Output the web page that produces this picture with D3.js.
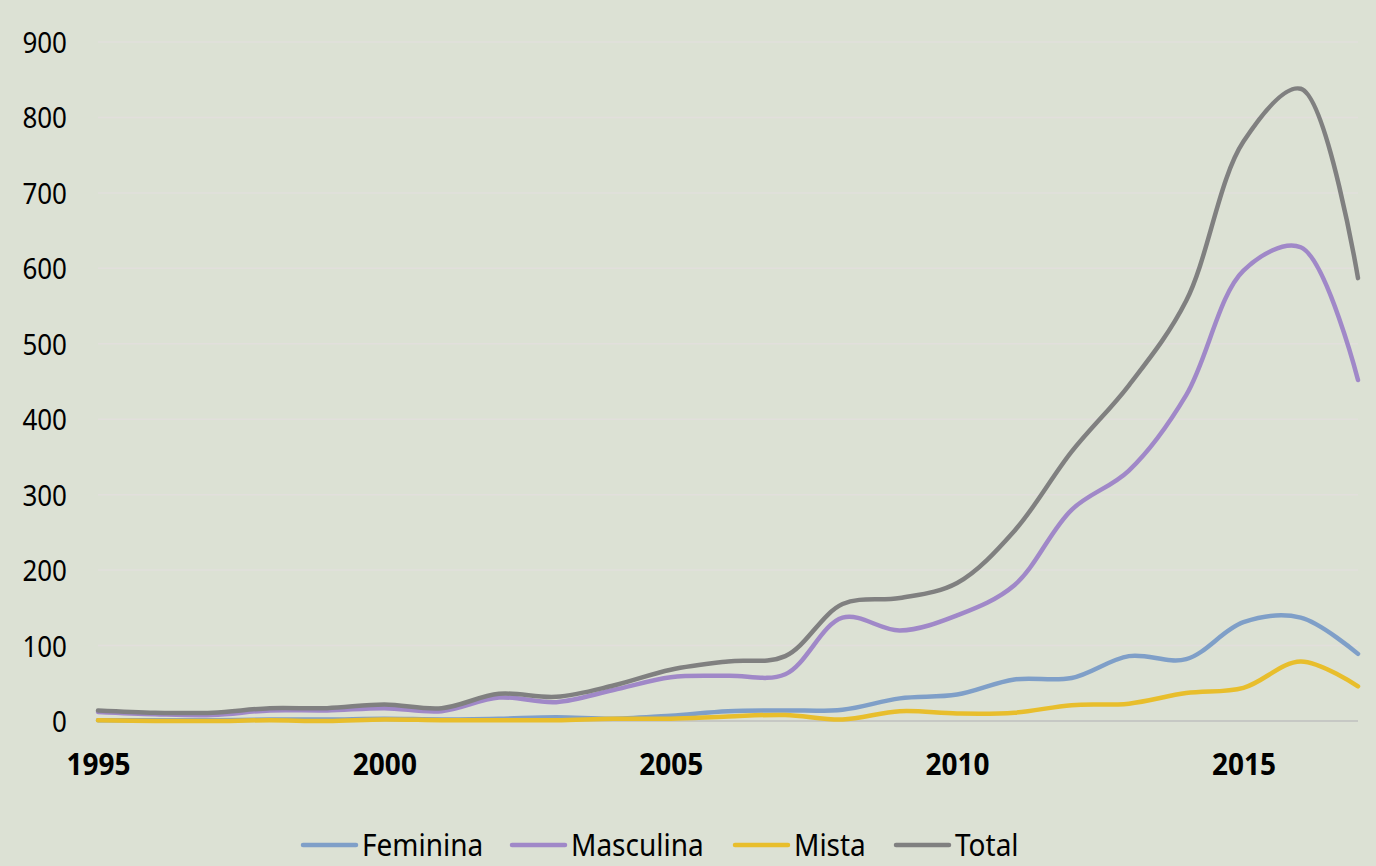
<!DOCTYPE html>
<html lang="pt">
  <head>
    <meta charset="utf-8"/>
    <title>Feminina / Masculina / Mista / Total</title>
    <style>
      html, body { margin: 0; padding: 0; background: #dce1d4; }
      svg { display: block; font-family: "Noto Sans", "Open Sans", sans-serif; }
    </style>
  </head>
  <body>
    <svg id="chart"></svg>

    <script src="https://d3js.org/d3.v7.min.js"></script>
    <script type="text/javascript">
      const width = 1376;
      const height = 866;

      const years = d3.range(1995, 2018);
      const feminina  = [1, 1, 1, 2, 2, 3, 2, 3, 5, 3, 7, 13, 14, 15, 30, 35, 55, 57, 86, 82, 131, 137, 89];
      const masculina = [12, 9, 8, 14, 14, 17, 13, 31, 25, 41, 58, 60, 62, 137, 120, 140, 180, 280, 332, 432, 597, 628, 452];
      const mista     = [1, 0, 0, 1, 0, 2, 1, 1, 1, 3, 3, 6, 8, 2, 13, 10, 11, 21, 23, 37, 44, 79, 46];
      const total     = [14, 11, 11, 17, 17, 22, 17, 36, 32, 47, 68, 79, 86, 155, 163, 183, 252, 357, 445, 557, 768, 838, 587];

      const seriesNames = ["Feminina", "Masculina", "Mista", "Total"];
      const seriesValues = [feminina, masculina, mista, total];
      const colors = ["#7f9fc8", "#a088c8", "#e8be2c", "#808080"];

      const yTicks = [0, 100, 200, 300, 400, 500, 600, 700, 800, 900];
      const xTicks = [1995, 2000, 2005, 2010, 2015];

      const plotLeft = 98, plotRight = 1358, plotTop = 42, plotBottom = 721;

      const svg = d3.select("#chart")
        .attr("width", width)
        .attr("height", height);

      svg.append("rect")
        .attr("width", width)
        .attr("height", height)
        .attr("fill", "#dce1d4");

      const x = d3.scaleLinear().domain([1995, 2017]).range([plotLeft, plotRight]);
      const y = d3.scaleLinear().domain([0, 900]).range([plotBottom, plotTop]);

      // grid lines
      svg.append("g")
        .selectAll("line")
        .data(yTicks.slice(1))
        .enter().append("line")
          .attr("x1", plotLeft)
          .attr("x2", plotRight)
          .attr("y1", d => y(d))
          .attr("y2", d => y(d))
          .attr("stroke", "#e2dfdc")
          .attr("stroke-width", 1.5);

      // y axis labels (font is a bit taller than Noto Sans, so stretch it)
      const yAxis = svg.append("g")
        .attr("transform", "translate(" + (plotLeft - 31) + ",0)")
        .call(d3.axisLeft(y).tickValues(yTicks).tickSize(0).tickPadding(0));
      yAxis.select(".domain").remove();
      yAxis.selectAll("text")
        .attr("fill", "#000")
        .attr("dy", "0.35em")
        .attr("transform", "scale(1,1.15)")
        .style("font-size", "26px")
        .style("font-family", "'Noto Sans', sans-serif");

      // zero line
      svg.append("line")
        .attr("x1", plotLeft)
        .attr("x2", plotRight)
        .attr("y1", y(0))
        .attr("y2", y(0))
        .attr("stroke", "#bfbfbf")
        .attr("stroke-width", 1.5);

      // x axis labels
      const xAxis = svg.append("g")
        .attr("transform", "translate(0,764)")
        .call(d3.axisBottom(x).tickValues(xTicks).tickFormat(d3.format("d")).tickSize(0).tickPadding(0));
      xAxis.select(".domain").remove();
      xAxis.selectAll("text")
        .attr("fill", "#000")
        .attr("y", 0)
        .attr("dy", "0.35em")
        .attr("transform", "scale(1,1.1)")
        .style("font-size", "28px")
        .style("font-weight", "bold")
        .style("font-family", "'Noto Sans', sans-serif");

      // lines
      const line = d3.line()
        .x((d, i) => x(years[i]))
        .y(d => y(d))
        .curve(d3.curveCatmullRom.alpha(0.5));

      svg.append("g")
        .selectAll("path")
        .data(seriesValues)
        .enter().append("path")
          .attr("d", d => line(d))
          .attr("fill", "none")
          .attr("stroke", (d, i) => colors[i])
          .attr("stroke-width", 4.5)
          .attr("stroke-linecap", "round")
          .attr("stroke-linejoin", "round");

      // legend
      const legendX = [303, 512, 735, 896];
      const legend = svg.append("g")
        .selectAll("g")
        .data(seriesNames)
        .enter().append("g")
          .attr("transform", (d, i) => "translate(" + legendX[i] + ",845)");

      legend.append("line")
        .attr("x1", 0)
        .attr("x2", 53)
        .attr("stroke", (d, i) => colors[i])
        .attr("stroke-width", 4.5)
        .attr("stroke-linecap", "round");

      legend.append("text")
        .attr("x", 59)
        .attr("dy", "0.35em")
        .attr("transform", "scale(1,1.1)")
        .style("font-size", "28px")
        .attr("fill", "#000")
        .text(d => d);
    </script>
  </body>
</html>
